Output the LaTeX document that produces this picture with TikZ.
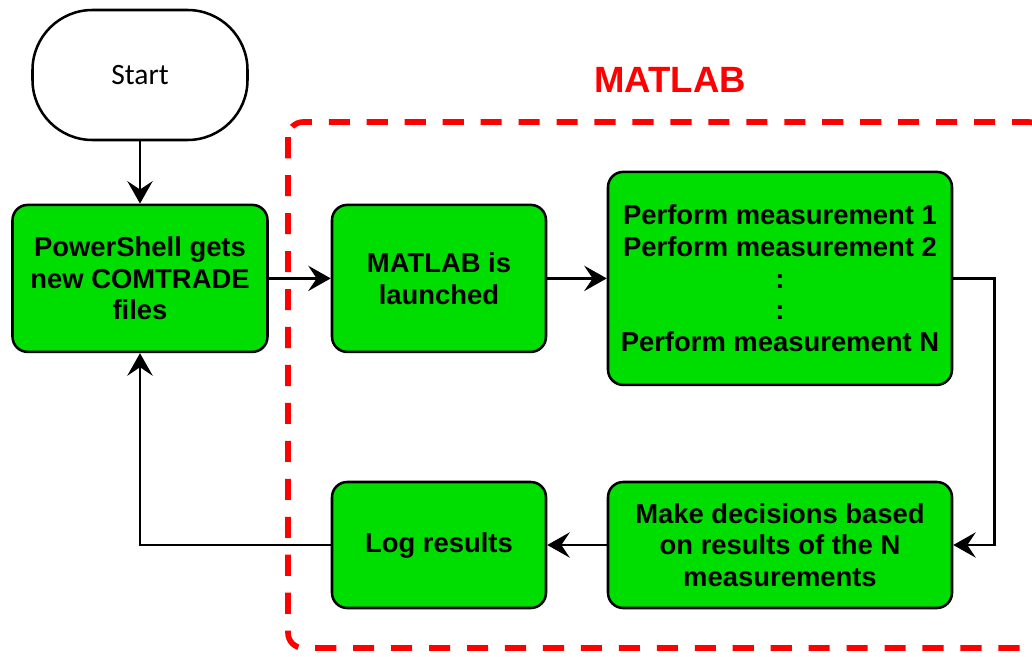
\documentclass[tikz,border=0pt]{standalone}
\usepackage{fontspec}
\setmainfont{Liberation Sans}
\newfontfamily\startfont{Carlito}
\usetikzlibrary{arrows.meta}
\definecolor{boxgreen}{RGB}{0,221,0}
\definecolor{frame}{RGB}{255,0,0}

\begin{document}
\begin{tikzpicture}[
    x=1cm,
    y=1cm,
    terminal/.style={
        draw,
        rounded corners=1.5cm,
        line width=1.8pt,
        minimum width=5.375cm,
        minimum height=3.25cm,
        font=\startfont\fontsize{21}{24}\selectfont
    },
    process/.style={
        draw,
        rounded corners=0.38cm,
        line width=1.8pt,
        align=center,
        fill=boxgreen,
        font=\bfseries\fontsize{19.5}{22.5}\selectfont
    },
    region/.style={
        draw=frame,
        line width=4pt,
        rounded corners=0.38cm,
        dash pattern=on 15pt off 12pt
    },
    flow/.style={-{Stealth[length=16pt, width=18pt, inset=6pt]}, line width=1.8pt}
]

\useasboundingbox (0,0) rectangle (25.8,-16.425);

\draw[region] (7.2,-3.05) rectangle (26.1,-16.2);
\node[text=frame, font=\bfseries\fontsize{26}{30}\selectfont] (matlab) at (16.75,-2.0) {MATLAB};

\node[terminal] (start) at (3.5,-1.875) {Start};

\node[process, minimum width=6.375cm, minimum height=3.675cm] (shell) at (3.5,-6.96) {PowerShell gets\\new COMTRADE\\files};
\node[process, minimum width=5.35cm, minimum height=3.675cm] (launch) at (10.975,-6.96) {MATLAB is\\launched};
\node[process, minimum width=8.6cm, minimum height=5.325cm] (measure) at (19.5,-6.96) {Perform measurement 1\\Perform measurement 2\\:\\:\\Perform measurement N};

\node[process, minimum width=8.6cm, minimum height=3.15cm] (decide) at (19.5,-13.625) {Make decisions based\\on results of the N\\measurements};
\node[process, minimum width=5.35cm, minimum height=3.15cm] (log) at (10.975,-13.625) {Log results};

\draw[flow] (start) -- (shell);
\draw[flow] (shell) -- (launch);
\draw[flow] (launch) -- (measure);
\draw[flow] (measure.east) -- ++(1.03,0) |- (decide.east);
\draw[flow] (decide) -- (log);
\draw[flow] (log.west) -| (shell.south);

\end{tikzpicture}
\end{document}
